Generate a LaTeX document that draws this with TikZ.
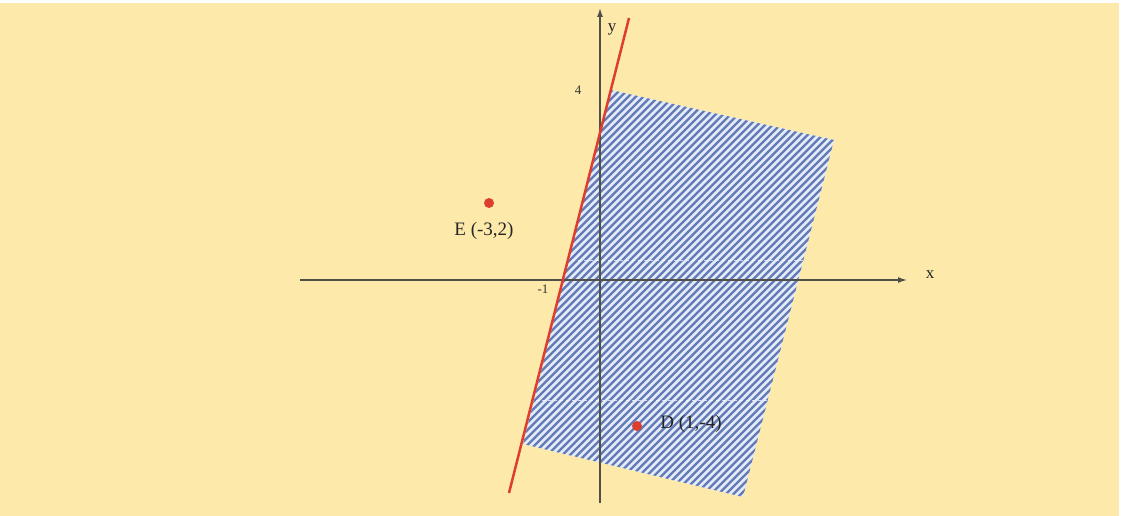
\documentclass[tikz,border=0pt]{standalone}
\usepackage{fontspec}
\setmainfont{Liberation Serif}
\usetikzlibrary{arrows.meta}
\definecolor{bgyellow}{RGB}{253,234,170}
\definecolor{hatchblue}{RGB}{98,122,182}
\definecolor{hatchlight}{RGB}{228,235,248}
\definecolor{redline}{RGB}{222,62,45}
\definecolor{axisgray}{RGB}{80,80,70}
\begin{document}
\begin{tikzpicture}[x=1pt,y=-1pt,
  axis/.style={draw=axisgray, line width=1.3pt, -{Latex[length=9pt,width=6pt]}},
  lbl/.style={font=\fontsize{19}{22}\selectfont, text=black!85, inner sep=0pt},
  axlbl/.style={font=\fontsize{17}{20}\selectfont, text=black!85, inner sep=0pt},
  small/.style={font=\fontsize{13}{15}\selectfont, text=black!80, inner sep=0pt},
  pt/.style={circle, fill=redline, minimum size=10pt, inner sep=0pt},
  hatch/.style={draw=hatchblue, line width=2.2pt},
  artifact/.style={draw=white, dashed, line width=0.8pt, opacity=0.7}]
\useasboundingbox (0,0) rectangle (1134,516);
\fill[white] (0,0) rectangle (1134,516);
\fill[bgyellow] (0,3) rectangle (1119,516);
% feasible region
\coordinate (A) at (611,90);
\coordinate (B) at (834,140);
\coordinate (C) at (743,497);
\coordinate (Dd) at (523,444);
\begin{scope}
  \clip (A) -- (B) -- (C) -- (Dd) -- cycle;
  \fill[hatchlight] (A) -- (B) -- (C) -- (Dd) -- cycle;
  \foreach \k in {0,...,100} {
    \draw[hatch] ({120+7.5*\k},530) -- ++(520,-520);
  }
  \draw[artifact] (500,260) -- (850,260);
  \draw[artifact] (500,400) -- (850,400);
\end{scope}
% axes
\coordinate (xs) at (300,280);
\coordinate (xe) at (907,280);
\coordinate (ys) at (600,503);
\coordinate (ye) at (600,8);
\draw[axis] (xs) -- (xe);
\draw[axis] (ys) -- (ye);
% red boundary line
\coordinate (r1) at (509,493);
\coordinate (r2) at (629,18);
\draw[redline, line width=2.5pt] (r1) -- (r2);
% labels
\node[axlbl] (xl) at (930,275) {x};
\node[axlbl] (yl) at (612,29) {y};
\node[small] (four) at (578,90) {4};
\node[small] (mone) at (543,289) {-1};
% points
\node[pt] (E) at (489,203) {};
\node[lbl] (El) at (484,231) {E (-3,2)};
\node[pt] (D) at (637,426) {};
\node[lbl] (Dl) at (691,424) {D (1,-4)};
\end{tikzpicture}
\end{document}
